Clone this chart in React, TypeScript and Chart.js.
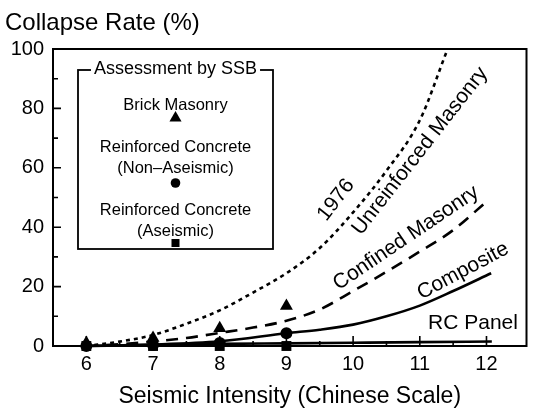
import React, { useEffect, useRef } from "react";
import { Chart, registerables } from "chart.js";

Chart.register(...registerables);

const FONT = "'Liberation Sans', Arial, Helvetica, sans-serif";

// Axis ticks
const xTicks = [6, 7, 8, 9, 10, 11, 12];
const xMinorTicks = [6.5, 7.5, 8.5, 9.5, 10.5, 11.5];
const yTicks = [0, 20, 40, 60, 80, 100];
const yMinorTicks = [10, 30, 50, 70, 90];

// Curves (seismic intensity vs collapse rate %)
const unreinforcedX = [6, 6.5, 7, 7.5, 8, 8.5, 9, 9.5, 10, 10.5, 11, 11.4];
const unreinforcedY = [0, 1.5, 3.7, 7.5, 12, 18, 24.5, 33, 45, 59, 76, 99];

const confinedX = [6, 6.5, 7, 7.5, 8, 8.5, 9, 9.5, 10, 10.5, 11, 11.5, 12.02];
const confinedY = [0, 0.6, 1.5, 2.7, 4.4, 6.2, 8.5, 12.3, 18.5, 25, 31.8, 39, 49];

const compositeX = [6, 7, 8, 9, 9.5, 10, 10.5, 11, 11.5, 12.07];
const compositeY = [0, 0.5, 1.6, 4.3, 5.5, 7.2, 10, 13.6, 18.5, 24.5];

const rcPanelX = [6, 7, 8, 9, 10, 11, 12.08];
const rcPanelY = [0, 0.4, 0.7, 0.9, 1.1, 1.3, 1.5];

// Assessment by SSB (markers)
const ssbX = [6, 7, 8, 9];
const brickMasonryY = [1, 2.7, 6, 13.5];
const rcNonAseismicY = [0, 0.3, 1, 4.3];
const rcAseismicY = [0, 0, 0, 0];

const chartTitle = "Collapse Rate (%)";
const xTitle = "Seismic Intensity (Chinese Scale)";
const legendTitle = "Assessment by SSB";

const pts = (xs: number[], ys: number[]) => xs.map((x, i) => ({ x, y: ys[i] }));

export default function App() {
  const ref = useRef<HTMLCanvasElement>(null);

  useEffect(() => {
    const canvas = ref.current!;

    const lineDs = (label: string, xs: number[], ys: number[], dash: number[]) => ({
      label,
      data: pts(xs, ys),
      showLine: true,
      borderColor: "#000",
      borderWidth: 2.6,
      borderDash: dash,
      borderCapStyle: "butt",
      pointRadius: 0,
      cubicInterpolationMode: "monotone",
      fill: false,
      clip: false,
      order: 5,
    });

    const markerDs = (label: string, ys: number[], style: string, r: number) => ({
      label,
      data: pts(ssbX, ys),
      showLine: false,
      pointStyle: style,
      pointRadius: r,
      pointBackgroundColor: "#000",
      pointBorderColor: "#000",
      pointBorderWidth: 0,
      clip: false,
      order: 1,
    });

    const decor = {
      id: "decor",
      afterDraw(chart: any) {
        const { ctx, chartArea: a, scales } = chart;
        const xs = scales.x;
        const ys = scales.y;
        ctx.save();
        // frame
        ctx.strokeStyle = "#000";
        ctx.lineWidth = 2;
        ctx.strokeRect(a.left, a.top, a.right - a.left, a.bottom - a.top);
        // inward ticks
        ctx.lineWidth = 1.6;
        ctx.beginPath();
        yTicks.forEach((v) => {
          const p = ys.getPixelForValue(v);
          ctx.moveTo(a.left, p);
          ctx.lineTo(a.left + 8, p);
        });
        yMinorTicks.forEach((v) => {
          const p = ys.getPixelForValue(v);
          ctx.moveTo(a.left, p);
          ctx.lineTo(a.left + 5, p);
        });
        xTicks.forEach((v) => {
          const p = xs.getPixelForValue(v);
          ctx.moveTo(p, a.bottom);
          ctx.lineTo(p, a.bottom - 10);
        });
        xMinorTicks.forEach((v) => {
          const p = xs.getPixelForValue(v);
          ctx.moveTo(p, a.bottom);
          ctx.lineTo(p, a.bottom - 5);
        });
        ctx.stroke();

        // title
        ctx.fillStyle = "#000";
        ctx.font = `24px ${FONT}`;
        ctx.textAlign = "left";
        ctx.textBaseline = "middle";
        ctx.fillText(chartTitle, 5, 23);

        // curve labels
        const labels = [
          { t: "1976", x: 336, y: 200, a: -52 },
          { t: "Unreinforced Masonry", x: 420, y: 151, a: -52 },
          { t: "Confined Masonry", x: 406, y: 238, a: -34 },
          { t: "Composite", x: 463, y: 271, a: -28 },
          { t: "RC Panel", x: 473, y: 323, a: 0 },
        ];
        ctx.font = `21px ${FONT}`;
        ctx.textAlign = "center";
        ctx.textBaseline = "middle";
        labels.forEach((l) => {
          ctx.save();
          ctx.translate(l.x, l.y);
          ctx.rotate((l.a * Math.PI) / 180);
          ctx.fillText(l.t, 0, 0);
          ctx.restore();
        });

        // legend box
        const bx = 78, by = 70, bw = 195, bh = 179;
        const cx = bx + bw / 2;
        ctx.lineWidth = 1.8;
        ctx.strokeRect(bx, by, bw, bh);
        ctx.font = `18px ${FONT}`;
        const tw = ctx.measureText(legendTitle).width;
        ctx.fillStyle = "#fff";
        ctx.fillRect(cx - tw / 2 - 3, by - 3, tw + 6, 6);
        ctx.fillStyle = "#000";
        ctx.fillText(legendTitle, cx, by - 1);

        ctx.font = `16.5px ${FONT}`;
        ctx.fillText("Brick Masonry", cx, 105);
        ctx.fillText("Reinforced Concrete", cx, 147);
        ctx.fillText("(Non\u2013Aseismic)", cx, 168);
        ctx.fillText("Reinforced Concrete", cx, 210);
        ctx.fillText("(Aseismic)", cx, 231);

        // legend markers
        const tr = 7;
        const ty = 118;
        ctx.beginPath();
        ctx.moveTo(cx, ty - tr);
        ctx.lineTo(cx + tr * 0.866, ty + tr * 0.5);
        ctx.lineTo(cx - tr * 0.866, ty + tr * 0.5);
        ctx.closePath();
        ctx.fill();
        ctx.beginPath();
        ctx.arc(cx, 183, 4.8, 0, Math.PI * 2);
        ctx.fill();
        ctx.fillRect(cx - 4, 239, 8, 8);
        ctx.restore();
      },
    };

    const chart = new Chart(canvas, {
      type: "scatter",
      data: {
        datasets: [
          lineDs("Unreinforced Masonry", unreinforcedX, unreinforcedY, [4, 4]),
          lineDs("Confined Masonry", confinedX, confinedY, [12, 8]),
          lineDs("Composite", compositeX, compositeY, []),
          lineDs("RC Panel", rcPanelX, rcPanelY, []),
          markerDs("Brick Masonry", brickMasonryY, "triangle", 7.5),
          markerDs("Reinforced Concrete (Non-Aseismic)", rcNonAseismicY, "circle", 6),
          markerDs("Reinforced Concrete (Aseismic)", rcAseismicY, "rect", 7),
        ] as any,
      },
      options: {
        responsive: false,
        animation: false,
        layout: { padding: { left: 0, right: 3, top: 49, bottom: 0 } },
        plugins: {
          legend: { display: false },
          tooltip: { enabled: false },
          title: { display: false },
        },
        scales: {
          x: {
            type: "linear",
            min: 5.5,
            max: 12.6,
            afterBuildTicks: (s: any) => {
              s.ticks = xTicks.map((v) => ({ value: v }));
            },
            afterFit: (s: any) => {
              s.height = 66;
            },
            grid: { display: false, drawTicks: false },
            border: { display: true, color: "#000", width: 2 },
            ticks: {
              color: "#000",
              font: { family: FONT, size: 20 },
              padding: 6,
              maxRotation: 0,
              autoSkip: false,
            },
            title: {
              display: true,
              text: xTitle,
              color: "#000",
              font: { family: FONT, size: 23 },
              padding: { top: 0, bottom: 2 },
            },
          },
          y: {
            type: "linear",
            min: 0,
            max: 100,
            afterBuildTicks: (s: any) => {
              s.ticks = yTicks.map((v) => ({ value: v }));
            },
            afterFit: (s: any) => {
              s.width = 53;
            },
            grid: { display: false, drawTicks: false },
            border: { display: true, color: "#000", width: 2 },
            ticks: {
              color: "#000",
              font: { family: FONT, size: 20 },
              padding: 9,
            },
          },
        },
      } as any,
      plugins: [decor],
    });

    return () => chart.destroy();
  }, []);

  return (
    <div style={{ position: "fixed", left: 0, top: 0, width: 534, height: 412, background: "#fff" }}>
      <canvas ref={ref} width={534} height={412} style={{ display: "block" }} />
    </div>
  );
}
